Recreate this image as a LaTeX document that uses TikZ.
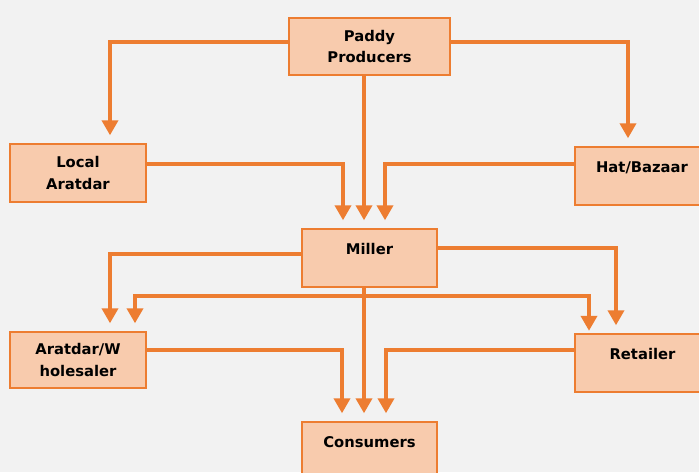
\documentclass[tikz,border=0pt]{standalone}
\usepackage{fontspec}
\setmainfont{DejaVu Sans}
\usepackage{tikz}
\usetikzlibrary{arrows,arrows.meta,calc}
\definecolor{chanbg}{HTML}{F2F2F2}
\definecolor{chanfill}{HTML}{F8CBAD}
\definecolor{chanline}{HTML}{ED7D31}
\tikzset{
    agent/.style args={#1x#2}{draw=chanline, line width=0.8pt, fill=chanfill, minimum width=#1cm, minimum height=#2cm,
        inner sep=0pt, align=center, font=\fontsize{8.4}{12.5}\selectfont\bfseries},
    oneline/.style={text depth=10pt},
    flow/.style={draw=chanline, line width=2.1pt, -{Triangle[width=0.32cm,length=0.3cm]}, shorten >=0.16cm}
}

\begin{document}
\begin{tikzpicture}[>=latex]
\fill[chanbg] (0,0) rectangle (13.98,9.44);
\useasboundingbox (0,0) rectangle (13.98,9.44);
\clip (0,0) rectangle (13.98,9.44);
\node[agent=3.22x1.14] (paddy) at (7.39,8.51) {Paddy\\Producers};
\node[agent=2.72x1.16] (local) at (1.56,5.98) {Local\\Aratdar};
\node[agent=2.68x1.16, oneline] (hat) at (12.84,5.92) {Hat/Bazaar};
\node[agent=2.70x1.16, oneline] (miller) at (7.39,4.28) {Miller};
\node[agent=2.72x1.12] (whole) at (1.56,2.24) {Aratdar/W\\holesaler};
\node[agent=2.70x1.16, oneline] (retailer) at (12.85,2.18) {Retailer};
\node[agent=2.70x1.16, oneline] (consumer) at (7.39,0.42) {Consumers};
\draw[flow] ([yshift=0.09cm]paddy.west) -| ([xshift=0.64cm]local.north);
\draw[flow] ([yshift=0.09cm]paddy.east) -| ([xshift=-0.28cm]hat.north);
\draw[flow] ([xshift=-0.11cm]paddy.south) -- ([xshift=-0.11cm]miller.north);
\draw[flow] ([yshift=0.18cm]local.east) -| ([xshift=-0.53cm]miller.north);
\draw[flow] ([yshift=0.24cm]hat.west) -| ([xshift=0.31cm]miller.north);
\draw[flow] ([yshift=0.08cm]miller.west) -| ([xshift=0.64cm]whole.north);
\draw[flow] ([yshift=0.2cm]miller.east) -| ([xshift=-0.53cm]retailer.north);
\draw[flow] ([xshift=-0.11cm]miller.south) -- ([xshift=-0.11cm]consumer.north);
\coordinate (split) at ($([xshift=-0.11cm]miller.south)+(0,-0.16)$);
\draw[flow] (split) -| ([xshift=1.14cm]whole.north);
\draw[flow, shorten >=0.05cm] (split) -| ([xshift=-1.07cm]retailer.north);
\draw[flow] ([yshift=0.2cm]whole.east) -| ([xshift=-0.55cm]consumer.north);
\draw[flow] ([yshift=0.26cm]retailer.west) -| ([xshift=0.33cm]consumer.north);
\end{tikzpicture}
\end{document}
